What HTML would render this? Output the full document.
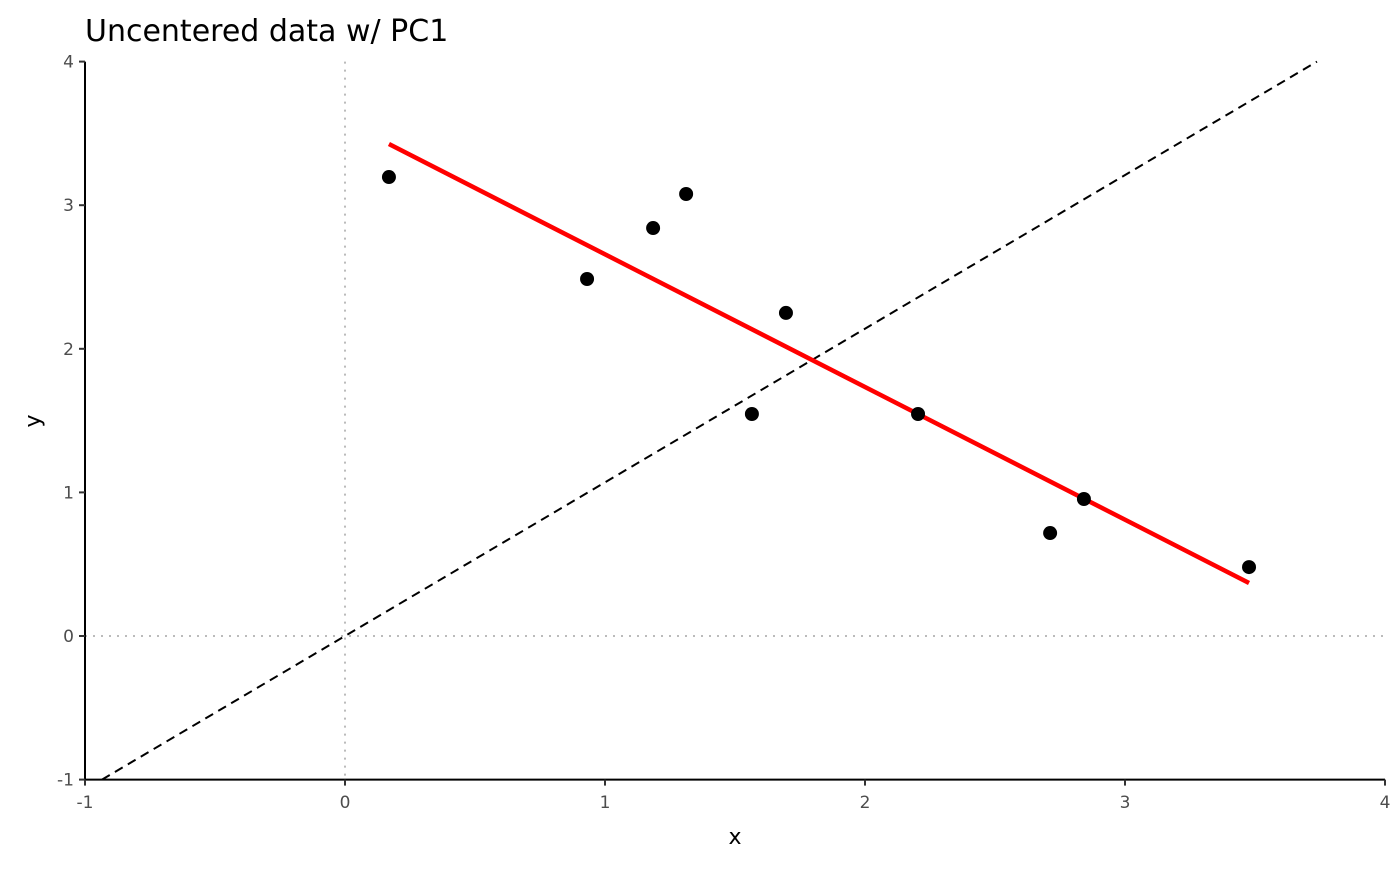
<!DOCTYPE html>
<html><head><meta charset="utf-8"><style>
body{margin:0;background:#fff;font-family:"DejaVu Sans","Liberation Sans",sans-serif}
</style></head><body>
<svg width="1400" height="865" id="svg" xmlns="http://www.w3.org/2000/svg" font-family="DejaVu Sans, Liberation Sans, sans-serif">
<text x="85" y="41" font-size="30" fill="#000">Uncentered data w/ PC1</text>
<text x="735" y="844" font-size="22" text-anchor="middle">x</text>
<text x="40" y="421" font-size="22" text-anchor="middle" transform="rotate(-90 40 421)">y</text>
<g id="g"></g>
</svg>
<script>
const xTicks=[-1,0,1,2,3,4];
const yTicks=[-1,0,1,2,3,4];
const px=[0.169,0.931,1.185,1.312,1.565,1.696,2.204,2.712,2.842,3.477];
const py=[3.196,2.486,2.841,3.078,1.546,2.25,1.546,0.717,0.954,0.48];
const pcLine=[[0.169,3.426],[3.477,0.369]];
const dashSlope=1.07;
const X=v=>345+v*260, Y=v=>636-v*143.6;
const g=document.getElementById('g'),NS='http://www.w3.org/2000/svg';
function mk(t,a,name){const e=document.createElementNS(NS,t);for(const k in a)e.setAttribute(k,a[k]);


g.appendChild(e);return e;}
mk('line',{x1:X(0),x2:X(0),y1:Y(4),y2:Y(-1),stroke:'#bbb','stroke-width':2,'stroke-dasharray':'2,6'},'vline-zero');
mk('line',{x1:X(-1),x2:X(4),y1:Y(0),y2:Y(0),stroke:'#bbb','stroke-width':2,'stroke-dasharray':'2,6'},'hline-zero');
const x0=-1/dashSlope,x1=4/dashSlope;
mk('line',{x1:X(x0),y1:Y(x0*dashSlope),x2:X(x1),y2:Y(x1*dashSlope),stroke:'#000','stroke-width':2,'stroke-dasharray':'9,6'},'dashed-line');
mk('line',{x1:X(pcLine[0][0]),y1:Y(pcLine[0][1]),x2:X(pcLine[1][0]),y2:Y(pcLine[1][1]),stroke:'#f00','stroke-width':4.5},'pc1-line');
px.forEach((v,i)=>mk('circle',{cx:X(v),cy:Y(py[i]),r:7,fill:'#000'},'data-point'));
mk('line',{x1:X(-1),x2:X(-1),y1:Y(4),y2:Y(-1),stroke:'#000','stroke-width':2},'y-axis-line');
mk('line',{x1:X(-1),x2:X(4),y1:Y(-1),y2:Y(-1),stroke:'#000','stroke-width':2},'x-axis-line');
xTicks.forEach(t=>{mk('line',{x1:X(t),x2:X(t),y1:Y(-1),y2:Y(-1)+6,stroke:'#333','stroke-width':2},'x-tick');
const e=mk('text',{x:X(t),y:808,'font-size':17,fill:'#4d4d4d','text-anchor':'middle'},'x-tick-label');e.textContent=t;});
yTicks.forEach(t=>{mk('line',{x1:X(-1)-6,x2:X(-1),y1:Y(t),y2:Y(t),stroke:'#333','stroke-width':2},'y-tick');
const e=mk('text',{x:74,y:Y(t)+6,'font-size':17,fill:'#4d4d4d','text-anchor':'end'},'y-tick-label');e.textContent=t;});
</script>
</body></html>
